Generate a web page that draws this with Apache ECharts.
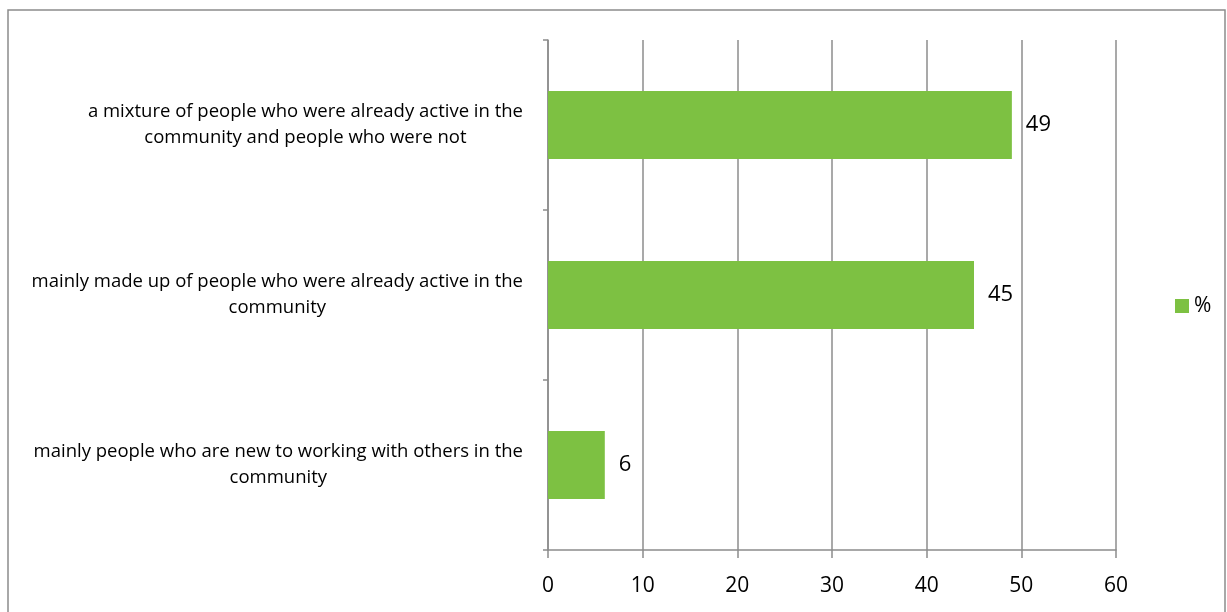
<!DOCTYPE html>
<html><head><meta charset="utf-8">
<script src="https://cdn.jsdelivr.net/npm/echarts@6/dist/echarts.min.js"></script>
<style>html,body{margin:0;padding:0;background:#fff}#c{width:1227px;height:612px}</style>
</head><body><div id="c"></div>
<script>
const categories = [
  ['a mixture of people who were already active in the', 'community and people who were not'],
  ['mainly made up of people who were already active in the', 'community'],
  ['mainly people who are new to working with others in the', 'community']
];
const values = [49, 45, 6];
const seriesName = '%';
const xTicks = [0, 10, 20, 30, 40, 50, 60];

const FONT = 'Open Sans';
const chart = echarts.init(document.getElementById('c'));
chart.setOption({
  backgroundColor: '#fff',
  animation: false,
  graphic: [{
    type: 'rect', shape: {x: 8, y: 10, width: 1217, height: 640},
    style: {fill: 'none', stroke: '#8c8c8c', lineWidth: 1.5}, z: -1
  }],
  grid: {left: 548, right: 111, top: 40, bottom: 62},
  legend: {
    data: [seriesName], left: 1170, top: 'middle', orient: 'vertical',
    itemWidth: 14, itemHeight: 14, itemGap: 6, icon: 'rect',
    textStyle: {fontFamily: FONT, fontSize: 21, color: '#000'}
  },
  xAxis: {
    type: 'value', min: xTicks[0], max: xTicks[xTicks.length - 1], interval: 10,
    axisLine: {show: true, lineStyle: {color: '#8c8c8c', width: 1.5}},
    axisTick: {show: true, length: 8, lineStyle: {color: '#8c8c8c', width: 1.5}},
    splitLine: {show: true, lineStyle: {color: '#8c8c8c', width: 1.5}},
    axisLabel: {fontFamily: FONT, fontSize: 21, color: '#000', margin: 26}
  },
  yAxis: {
    type: 'category', inverse: true,
    data: categories.map(c => c.join('\n')),
    axisLine: {show: true, lineStyle: {color: '#8c8c8c', width: 1.5}},
    axisTick: {show: true, length: 5, lineStyle: {color: '#8c8c8c', width: 1.5}},
    axisLabel: {
      margin: 25, align: 'right',
      formatter: v => v.split('\n').map(l => '{c|' + l + '}').join('\n'),
      rich: {c: {align: 'center', fontFamily: FONT, fontSize: 18.5, color: '#000', lineHeight: 26}}
    }
  },
  series: [{
    name: seriesName, type: 'bar', data: values,
    barCategoryGap: '60%',
    itemStyle: {color: '#7dc142'},
    label: {show: true, position: 'right', distance: 14, fontFamily: FONT, fontSize: 22, color: '#000'}
  }]
});
</script></body></html>
